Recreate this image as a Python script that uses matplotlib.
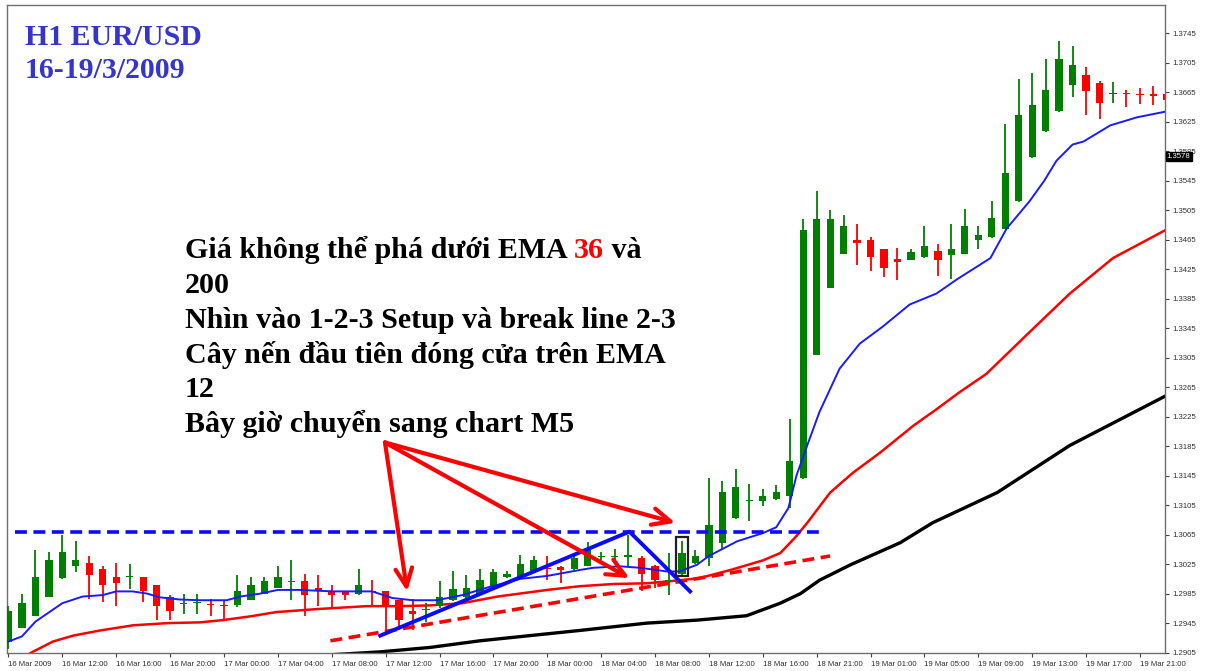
import matplotlib
matplotlib.use("Agg")
import matplotlib.pyplot as plt
from matplotlib.patches import Rectangle

# ---- candle data (H1 EUR/USD, 16-19 Mar 2009) ----
opens = [1.2920, 1.2939, 1.2955, 1.2981, 1.3006, 1.3022, 1.3027, 1.3019, 1.3008, 1.3007,
         1.3007, 1.2996, 1.2981, 1.2971, 1.2972, 1.2971, 1.2969, 1.2969, 1.2977, 1.2985,
         1.2993, 1.3001, 1.3002, 1.2992, 1.2989, 1.2987, 1.2985, 1.2988, 1.2988, 1.2976,
         1.2962, 1.2963, 1.2968, 1.2976, 1.2980, 1.2985, 1.2995, 1.3007, 1.3008, 1.3015,
         1.3020, 1.3021, 1.3018, 1.3023, 1.3035, 1.3035, 1.3035, 1.3033, 1.3023, 1.3002,
         1.3011, 1.3026, 1.3033, 1.3053, 1.3087, 1.3111, 1.3110, 1.3113, 1.3117, 1.3142,
         1.3309, 1.3400, 1.3446, 1.3465, 1.3464, 1.3452, 1.3439, 1.3438, 1.3441, 1.3449,
         1.3444, 1.3446, 1.3465, 1.3468, 1.3480, 1.3517, 1.3577, 1.3612, 1.3639, 1.3675,
         1.3688, 1.3677, 1.3663, 1.3663, 1.3663, 1.3662, 1.3663]
highs = [1.2968, 1.2984, 1.3044, 1.3041, 1.3064, 1.3056, 1.3036, 1.3022, 1.3026, 1.3025,
         1.3008, 1.2997, 1.2983, 1.2984, 1.2984, 1.2978, 1.2977, 1.3010, 1.3008, 1.3008,
         1.3022, 1.3030, 1.3012, 1.3010, 1.2996, 1.2989, 1.3019, 1.3003, 1.2989, 1.2977,
         1.2978, 1.2972, 1.3002, 1.3015, 1.3010, 1.3018, 1.3018, 1.3015, 1.3038, 1.3036,
         1.3036, 1.3023, 1.3036, 1.3055, 1.3042, 1.3046, 1.3065, 1.3036, 1.3024, 1.3040,
         1.3057, 1.3044, 1.3142, 1.3138, 1.3154, 1.3134, 1.3127, 1.3132, 1.3222, 1.3493,
         1.3531, 1.3505, 1.3498, 1.3486, 1.3468, 1.3453, 1.3454, 1.3453, 1.3483, 1.3459,
         1.3486, 1.3506, 1.3483, 1.3518, 1.3622, 1.3683, 1.3691, 1.3710, 1.3735, 1.3727,
         1.3699, 1.3680, 1.3679, 1.3668, 1.3671, 1.3673, 1.3666]
lows = [1.2910, 1.2938, 1.2954, 1.2980, 1.3005, 1.3014, 1.2978, 1.2974, 1.2968, 1.2991,
        1.2973, 1.2949, 1.2949, 1.2957, 1.2957, 1.2955, 1.2949, 1.2967, 1.2976, 1.2984,
        1.2992, 1.2976, 1.2954, 1.2968, 1.2965, 1.2976, 1.2983, 1.2969, 1.2931, 1.2935,
        1.2935, 1.2946, 1.2966, 1.2975, 1.2978, 1.2984, 1.2994, 1.3006, 1.3007, 1.3014,
        1.3003, 1.2999, 1.3017, 1.3022, 1.3030, 1.3026, 1.3022, 1.2989, 1.2992, 1.2983,
        1.3010, 1.3025, 1.3022, 1.3046, 1.3086, 1.3083, 1.3104, 1.3112, 1.3101, 1.3141,
        1.3308, 1.3399, 1.3445, 1.3431, 1.3422, 1.3415, 1.3410, 1.3437, 1.3440, 1.3416,
        1.3411, 1.3445, 1.3452, 1.3467, 1.3479, 1.3516, 1.3576, 1.3611, 1.3638, 1.3659,
        1.3634, 1.3629, 1.3650, 1.3645, 1.3649, 1.3648, 1.3645]
closes = [1.2962, 1.2972, 1.3008, 1.3030, 1.3041, 1.3031, 1.3010, 1.2997, 1.3000, 1.3008,
          1.2988, 1.2968, 1.2961, 1.2972, 1.2973, 1.2970, 1.2968, 1.2988, 1.2997, 1.3002,
          1.3008, 1.3002, 1.2983, 1.2988, 1.2983, 1.2983, 1.2996, 1.2987, 1.2968, 1.2949,
          1.2958, 1.2964, 1.2980, 1.2991, 1.2993, 1.3004, 1.3014, 1.3012, 1.3025, 1.3030,
          1.3018, 1.3017, 1.3033, 1.3044, 1.3036, 1.3036, 1.3037, 1.3012, 1.3003, 1.3003,
          1.3040, 1.3036, 1.3078, 1.3123, 1.3129, 1.3112, 1.3117, 1.3123, 1.3165, 1.3478,
          1.3493, 1.3493, 1.3484, 1.3461, 1.3441, 1.3427, 1.3435, 1.3448, 1.3456, 1.3437,
          1.3452, 1.3484, 1.3471, 1.3494, 1.3556, 1.3634, 1.3648, 1.3668, 1.3710, 1.3702,
          1.3667, 1.3650, 1.3664, 1.3662, 1.3661, 1.3660, 1.3655]

# ---- moving averages, read at points along each line ----
ema12_x = [0, 1, 2, 4, 5.5, 7, 8, 9.2, 10.3, 11.2, 12.7, 14.2, 16.2, 17.2, 18.7, 20, 21.6,
           24.1, 27, 28.5, 30, 31.8, 33.7, 35.7, 38, 40, 42.4, 43.4, 45.4, 46.9, 48.9, 49.8,
           51.1, 52, 54.1, 56, 57, 57.9, 58.5, 59.3, 60.2, 61.7, 63.2, 64.9, 66.9, 68.9,
           70.4, 72.9, 74.1, 75.8, 76.9, 77.8, 79, 79.8, 81.8, 83.8, 86]
ema12_y = [1.2920, 1.2927, 1.2947, 1.2972, 1.2981, 1.2983, 1.2988, 1.2988, 1.2985, 1.2980,
           1.2977, 1.2976, 1.2976, 1.2981, 1.2985, 1.2990, 1.2990, 1.2988, 1.2988, 1.2979,
           1.2976, 1.2976, 1.2983, 1.2994, 1.3005, 1.3009, 1.3017, 1.3020, 1.3022, 1.3020,
           1.3015, 1.3015, 1.3024, 1.3036, 1.3056, 1.3067, 1.3075, 1.3101, 1.3145, 1.3186,
           1.3231, 1.3290, 1.3324, 1.3347, 1.3377, 1.3392, 1.3411, 1.3440, 1.3480, 1.3517,
           1.3545, 1.3572, 1.3594, 1.3598, 1.3620, 1.3631, 1.3639]

ema36_x = [0, 1.8, 3.3, 4.8, 6.8, 9.25, 11.8, 14.2, 15.9, 17.9, 19.9, 22.9, 26.6, 29.1,
           31.3, 33.7, 36.3, 40, 42.4, 44.9, 47.4, 49.8, 51.3, 53.6, 56, 57.3, 58.5, 59.3,
           61, 62.7, 64.7, 67.2, 68.9, 70.6, 72.6, 75.6, 78.8, 82, 86]
ema36_y = [1.2887, 1.2906, 1.2920, 1.2928, 1.2935, 1.2942, 1.2945, 1.2946, 1.2949, 1.2954,
           1.2960, 1.2964, 1.2968, 1.2968, 1.2969, 1.2972, 1.2981, 1.2990, 1.2995, 1.2998,
           1.2999, 1.3003, 1.3006, 1.3017, 1.3030, 1.3040, 1.3063, 1.3081, 1.3122, 1.3149,
           1.3176, 1.3213, 1.3235, 1.3258, 1.3283, 1.3336, 1.3392, 1.3440, 1.3479]

ema200_x = [18, 23.9, 27.6, 31.3, 35, 42.4, 47.4, 51.1, 54.8, 57.3, 58.8, 60.2, 62.5, 66.2,
            68.6, 73.4, 78.8, 86]
ema200_y = [1.2895, 1.2902, 1.2906, 1.2912, 1.2921, 1.2935, 1.2945, 1.2949, 1.2955, 1.2972,
            1.2985, 1.3003, 1.3024, 1.3054, 1.3081, 1.3122, 1.3186, 1.3254]

# ---- drawn annotations (bar index, price) ----
resist_x, resist_y = [0.5, 60.2], [1.3069, 1.3069]
support_x, support_y = [23.9, 61], [1.2921, 1.3036]
setup_x, setup_y = [27.6, 46.1, 50.6], [1.2928, 1.3069, 1.2988]
box_bar = 50
arrow_from = (27.95, 1.3190)
arrow_to = [(29.6, 1.2988), (46.1, 1.3006), (49.5, 1.3081)]

xtick_pos = list(range(0, 85, 4))
xtick_labels = ["16 Mar 2009", "16 Mar 12:00", "16 Mar 16:00", "16 Mar 20:00",
                "17 Mar 00:00", "17 Mar 04:00", "17 Mar 08:00", "17 Mar 12:00",
                "17 Mar 16:00", "17 Mar 20:00", "18 Mar 00:00", "18 Mar 04:00",
                "18 Mar 08:00", "18 Mar 12:00", "18 Mar 16:00", "18 Mar 21:00",
                "19 Mar 01:00", "19 Mar 05:00", "19 Mar 09:00", "19 Mar 13:00",
                "19 Mar 17:00", "19 Mar 21:00"]
ytick_vals = [1.2905 + 0.004 * k for k in range(22)]
last_price = 1.3578

W, H = 1205, 671
fig = plt.figure(figsize=(W / 100, H / 100), dpi=100)
ax = fig.add_axes([7 / W, 18 / H, 1158 / W, 648 / H])

GREEN = "#007f00"
RED = "#ff0000"

# candles
for i in range(len(opens)):
    o, h, l, c = opens[i], highs[i], lows[i], closes[i]
    col = GREEN if c >= o else RED
    ax.vlines(i, l, h, color=col, linewidth=1.3, zorder=3)
    ax.bar(i, max(abs(c - o), 0.00015), bottom=min(o, c), width=0.54,
           color=col, linewidth=0, zorder=3)

ax.plot(ema200_x, ema200_y, color="black", linewidth=2.4, zorder=2)
ax.plot(ema36_x, ema36_y, color=RED, linewidth=1.8, zorder=2)
ax.plot(ema12_x, ema12_y, color="#1a1aff", linewidth=1.4, zorder=4)

ax.plot(resist_x, resist_y, color="#0a0aff", linewidth=2.6, linestyle=(0, (3.3, 1.8)), zorder=5)
ax.plot(support_x, support_y, color=RED, linewidth=2.6, linestyle=(0, (3.3, 1.8)), zorder=5)
ax.plot(setup_x, setup_y, color="#0a0aff", linewidth=2.8, zorder=5)
ax.add_patch(Rectangle((box_bar - 0.48, 1.3009), 0.96, 0.0053, fill=False,
                       edgecolor="#202020", linewidth=1.6, zorder=6))
for tip in arrow_to:
    ax.annotate("", xy=tip, xytext=arrow_from,
                arrowprops=dict(arrowstyle="->,head_length=1.3,head_width=0.6",
                                color=RED, linewidth=3,
                                shrinkA=0, shrinkB=0), zorder=7)

ax.set_xlim(-0.11, 85.86)
ax.set_ylim(1.290445, 1.378322)

ax.set_xticks(xtick_pos)
ax.set_xticklabels(xtick_labels, ha="left", fontsize=5.6, family="Liberation Sans",
                   color="#303030")
ax.yaxis.tick_right()
ax.set_yticks(ytick_vals)
ax.set_yticklabels([f"{v:.4f}" for v in ytick_vals], fontsize=5.6,
                   family="Liberation Sans", color="#303030")
ax.tick_params(axis="both", length=3, width=0.8, color="#404040", pad=2)
ax.tick_params(axis="x", pad=3)
for s in ax.spines.values():
    s.set_color("#707070")
    s.set_linewidth(1.0)

# current price label (sits over the 1.3585 tick label, as in the terminal)
ax.text(1.0015, last_price, f"{last_price:.4f}", transform=ax.get_yaxis_transform(),
        fontsize=5.6, family="Liberation Sans", color="white", va="center", ha="left",
        bbox=dict(boxstyle="square,pad=0.15", facecolor="black", edgecolor="black"),
        zorder=10, clip_on=False)

serif = ["Liberation Serif", "DejaVu Serif"]
fig.text(25 / W, 1 - 45 / H, "H1 EUR/USD", fontsize=21.5, fontweight="bold",
         family=serif, color="#3535cc", va="baseline")
fig.text(25 / W, 1 - 78 / H, "16-19/3/2009", fontsize=21.5, fontweight="bold",
         family=serif, color="#3535cc", va="baseline")

lines = [["Giá không thể phá dưới EMA ", ("36", RED), " và"],
         ["200"],
         ["Nhìn vào 1-2-3 Setup và break line 2-3"],
         ["Cây nến đầu tiên đóng cửa trên EMA"],
         ["12"],
         ["Bây giờ chuyển sang chart M5"]]
baselines = [258, 293, 328, 363, 397, 432]
fig.canvas.draw()
renderer = fig.canvas.get_renderer()
for parts, yb in zip(lines, baselines):
    x = 185
    for p in parts:
        txt, col = (p, "black") if isinstance(p, str) else p
        t = fig.text(x / W, 1 - yb / H, txt, fontsize=21.6, fontweight="bold",
                     family=serif, color=col, va="baseline", zorder=20)
        bb = t.get_window_extent(renderer)
        x += bb.width

fig.savefig("out.png", dpi=100, facecolor="white")
